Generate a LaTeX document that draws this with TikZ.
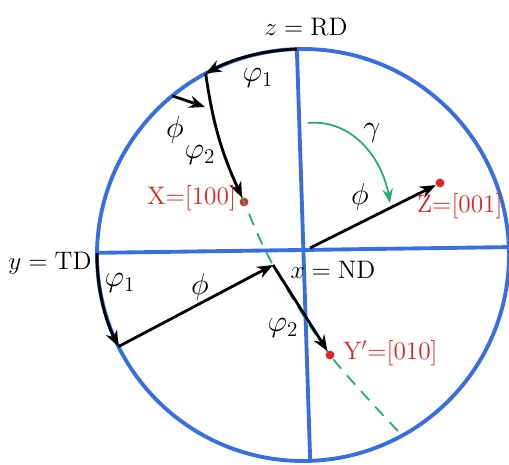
\documentclass[tikz,border=0pt]{standalone}
\usepackage{amsmath}
\usepackage{xcolor}
\usetikzlibrary{arrows.meta}
\definecolor{penblue}{RGB}{55,110,225}
\definecolor{penred}{RGB}{225,35,35}
\definecolor{pengreen}{RGB}{35,175,115}

\begin{document}
\begin{tikzpicture}[x=0.02cm,y=0.02cm,
  rot/.style={-{Stealth[length=9pt,width=7pt]},line width=1.6pt,black},
  pole/.style={circle,fill=penred,inner sep=0pt,minimum size=5pt},
  redlbl/.style={text=penred,font=\Large,inner sep=1pt},
  axlbl/.style={font=\Large},
  anglbl/.style={font=\LARGE}]
  \def\R{206}
  \useasboundingbox (-303,-210) rectangle (206,255);
  % reference frame: circle and the two axes
  \coordinate (RD) at (91.7:\R);
  \coordinate (RDbot) at (-88:\R);
  \coordinate (TD) at (179.4:\R);
  \coordinate (TDright) at (2.2:\R);
  \draw[penblue,line width=2.2pt] (0,0) circle (\R);
  \draw[penblue,line width=2.2pt] (RD) -- (RDbot);
  \draw[penblue,line width=2.2pt] (TD) -- (TDright);
  % rotation points
  \coordinate (A1) at (118.2:\R);
  \coordinate (B1) at (206.4:\R);
  \coordinate (ND) at (-30,-10);
  \coordinate (Zs) at (7,7);
  \coordinate (Ps) at (129.4:\R);
  \coordinate (Pe) at (-98,148);
  \coordinate (Gs) at (5,132);
  \coordinate (Ge) at (87,52);
  \coordinate (Gend) at (-61.2:\R);
  \node[pole] (X) at (-59,53) {};
  \node[pole] (Z) at (137,72) {};
  \node[pole] (Y) at (27,-100) {};
  % green great circle through X and Y'
  \draw[pengreen,line width=1pt,dash pattern=on 7pt off 5pt]
    plot[smooth] coordinates {(A1) (-87,125) (-59,53) (ND) (27,-100) (Gend)};
  \draw[pengreen,line width=1pt,-{Stealth[length=8pt,width=6pt]}] (Gs) to[out=5,in=100] (Ge);
  % upper sequence
  \draw[rot] (RD) arc (91.7:118.2:\R);
  \draw[rot] (A1) to[bend right=8] (X);
  \draw[rot] (Ps) -- (Pe);
  % lower sequence
  \draw[rot] (TD) arc (179.4:206.4:\R);
  \draw[rot] (B1) -- (ND);
  \draw[rot] (ND) -- (Y);
  % right arrow to Z
  \draw[rot] (Zs) -- (Z);
  % labels
  \node[axlbl] (zRD) at (3,228) {$z=\mathrm{RD}$};
  \node[axlbl] (yTD) at (-253,-8) {$y=\mathrm{TD}$};
  \node[axlbl] (xND) at (30,-15) {$x=\mathrm{ND}$};
  \node[redlbl,anchor=east] (Xl) at (-65,57) {X=[100]};
  \node[redlbl,anchor=north west] (Zl) at (112,64) {Z=[001]};
  \node[redlbl,anchor=west] (Yl) at (38,-98) {Y$'$=[010]};
  \node[anglbl] (f1a) at (-45,177) {$\varphi_1$};
  \node[anglbl] (f2a) at (-103,100) {$\varphi_2$};
  \node[anglbl] (fa) at (-128,125) {$\phi$};
  \node[anglbl] (g) at (69,122) {$\gamma$};
  \node[anglbl] (fz) at (57,58) {$\phi$};
  \node[anglbl] (f1b) at (-183,-28) {$\varphi_1$};
  \node[anglbl] (fb) at (-103,-32) {$\phi$};
  \node[anglbl] (f2b) at (-20,-73) {$\varphi_2$};
\end{tikzpicture}
\end{document}
